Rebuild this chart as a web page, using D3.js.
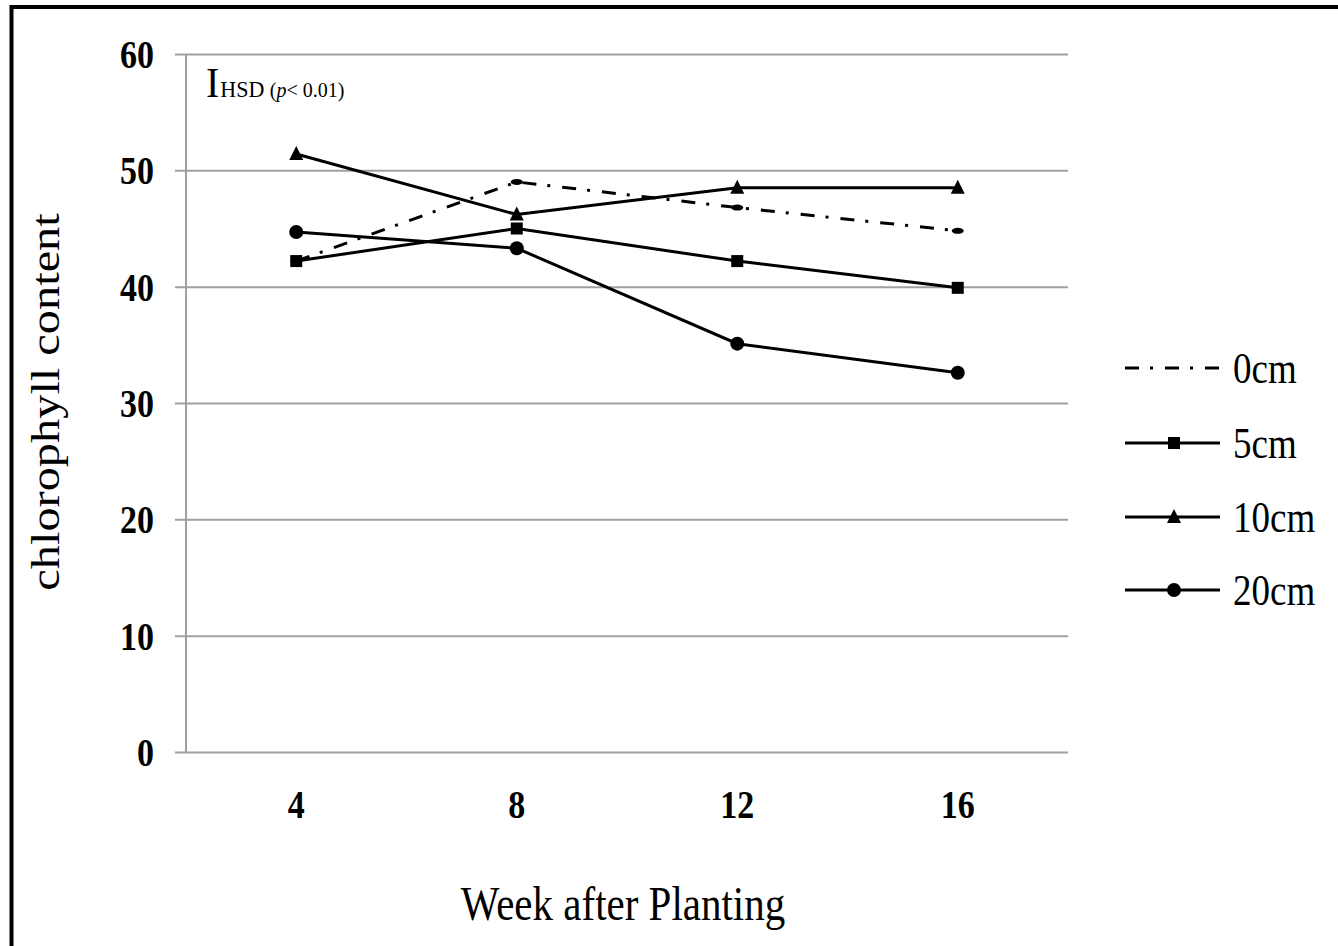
<!DOCTYPE html>
<html>
<head>
<meta charset="utf-8">
<script src="https://cdn.jsdelivr.net/npm/d3@7"></script>
<style>
  html, body { margin: 0; padding: 0; background: #fff; }
  svg { display: block; }
  text { font-family: "Liberation Serif", "Times New Roman", serif; fill: #000; }
</style>
</head>
<body>
<svg id="chart" width="1338" height="946"></svg>
<script>
// ---- data ----
const weeks = ["4", "8", "12", "16"];
const yTicks = [0, 10, 20, 30, 40, 50, 60];
const seriesNames = ["0cm", "5cm", "10cm", "20cm"];
const values0cm  = [42.2, 49.0, 46.8, 44.8];
const values5cm  = [42.2, 45.0, 42.2, 39.9];
const values10cm = [51.4, 46.2, 48.5, 48.5];
const values20cm = [44.7, 43.3, 35.1, 32.6];
const xTitle = "Week after Planting";
const yTitle = "chlorophyll content";

const series = [
  { name: seriesNames[0], values: values0cm,  marker: "none",     dash: "14,11,3,12" },
  { name: seriesNames[1], values: values5cm,  marker: "square",   dash: null },
  { name: seriesNames[2], values: values10cm, marker: "triangle", dash: null },
  { name: seriesNames[3], values: values20cm, marker: "circle",   dash: null }
];

const svg = d3.select("#chart");
const SY = 1.18; // vertical stretch of glyphs

// frame
svg.append("rect").attr("x", 11.5).attr("y", 7).attr("width", 1400).attr("height", 1000)
  .attr("fill", "none").attr("stroke", "#000").attr("stroke-width", 4);

const L = 186, R = 1068, T = 54, B = 752;
const x = d3.scaleBand().domain(weeks).range([L, R]);
const y = d3.scaleLinear().domain([0, 60]).range([B, T]);

// gridlines (y axis)
const yAxis = d3.axisLeft(y).tickValues(yTicks).tickSize(-(R - L)).tickFormat("");
const gy = svg.append("g").attr("transform", `translate(${L},0)`).call(yAxis);
gy.select(".domain").remove();
gy.selectAll(".tick line").attr("stroke", "#a0a0a0").attr("stroke-width", 2).attr("x1", -11);
svg.append("line").attr("x1", L).attr("x2", L).attr("y1", T).attr("y2", B)
  .attr("stroke", "#a0a0a0").attr("stroke-width", 2);

// y tick labels
yTicks.forEach(v => {
  svg.append("text")
    .attr("transform", `translate(154,${y(v)}) scale(1,${SY})`)
    .attr("text-anchor", "end").attr("dy", "0.35em")
    .attr("font-size", 34).attr("font-weight", "bold").text(v);
});

// x tick labels
weeks.forEach(w => {
  svg.append("text")
    .attr("transform", `translate(${x(w) + x.bandwidth() / 2},${B + 66}) scale(1,${SY})`)
    .attr("text-anchor", "middle")
    .attr("font-size", 34).attr("font-weight", "bold").text(w);
});

// axis titles
svg.append("text")
  .attr("transform", `translate(${(L + R) / 2 - 4},920) scale(1,${SY})`)
  .attr("text-anchor", "middle").attr("font-size", 41).text(xTitle);
svg.append("text")
  .attr("transform", `translate(59,402) scale(1,${SY}) rotate(-90)`)
  .attr("text-anchor", "middle").attr("font-size", 41).text(yTitle);

// HSD annotation
const hsd = svg.append("text").attr("transform", `translate(206,97) scale(1,1.05)`);
hsd.append("tspan").attr("font-size", 40).text("I");
hsd.append("tspan").attr("font-size", 22).attr("dx", 1).text("HSD ");
hsd.append("tspan").attr("font-size", 20).text("(");
hsd.append("tspan").attr("font-size", 20).attr("font-style", "italic").text("p");
hsd.append("tspan").attr("font-size", 20).text("< 0.01)");

// markers
function drawMarker(g, type, cx, cy) {
  if (type === "square") {
    g.append("rect").attr("x", cx - 6).attr("y", cy - 6).attr("width", 12).attr("height", 12).attr("fill", "#000");
  } else if (type === "triangle") {
    g.append("path").attr("d", `M${cx},${cy - 8}L${cx + 7},${cy + 6}L${cx - 7},${cy + 6}Z`).attr("fill", "#000");
  } else if (type === "circle") {
    g.append("circle").attr("cx", cx).attr("cy", cy).attr("r", 7).attr("fill", "#000");
  }
}

const line = d3.line().x((d, i) => x(weeks[i]) + x.bandwidth() / 2).y(d => y(d));
series.forEach(s => {
  const g = svg.append("g");
  g.append("path").datum(s.values).attr("d", line)
    .attr("fill", "none").attr("stroke", "#000").attr("stroke-width", 3)
    .attr("stroke-dasharray", s.dash);
  if (s.marker === "none") {
    s.values.forEach((v, i) => {
      g.append("ellipse").attr("cx", x(weeks[i]) + x.bandwidth() / 2).attr("cy", y(v))
        .attr("rx", 6).attr("ry", 3).attr("fill", "#000");
    });
  } else {
    s.values.forEach((v, i) => drawMarker(g, s.marker, x(weeks[i]) + x.bandwidth() / 2, y(v)));
  }
});

// legend
const legendY = [368, 443, 517, 590];
series.forEach((s, i) => {
  const g = svg.append("g");
  const ly = legendY[i];
  g.append("line").attr("x1", 1125).attr("x2", 1220).attr("y1", ly).attr("y2", ly)
    .attr("stroke", "#000").attr("stroke-width", 3).attr("stroke-dasharray", s.dash);
  drawMarker(g, s.marker, 1174, ly);
  g.append("text").attr("transform", `translate(1233,${ly}) scale(1,${SY})`)
    .attr("dy", "0.35em").attr("font-size", 37).text(s.name);
});
</script>
</body>
</html>
